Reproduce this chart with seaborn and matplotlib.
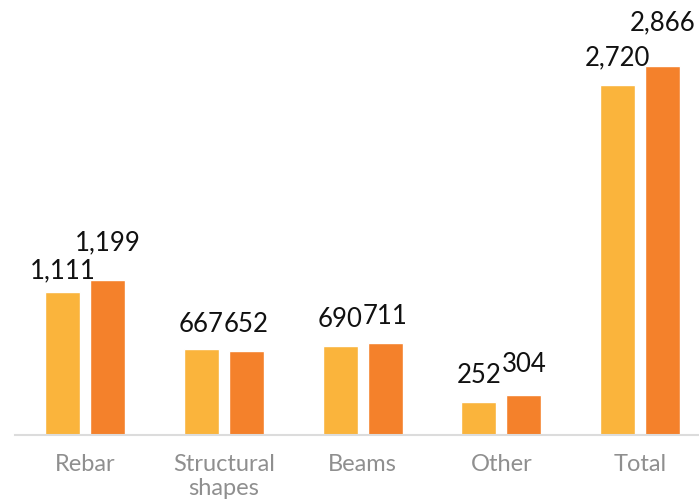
import matplotlib
matplotlib.use("Agg")
import matplotlib.pyplot as plt
import pandas as pd
import seaborn as sns

# Tonnage by product group, two periods
categories = ["Rebar", "Structural\nshapes", "Beams", "Other", "Total"]
series_names = ["Period 1", "Period 2"]
values_p1 = [1111, 667, 690, 252, 2720]
values_p2 = [1199, 652, 711, 304, 2866]

# Height of each value label's baseline above its bar top, in pixels
label_lift_p1 = [13, 17, 19, 19, 20]
label_lift_p2 = [30, 19, 19, 23, 36]

colors = ["#FAB43C", "#F4812B"]

sns.set_style("white")
plt.rcParams["font.family"] = ["Lato", "DejaVu Sans"]

df = pd.DataFrame({
    "category": categories * 2,
    "series": [series_names[0]] * len(categories) + [series_names[1]] * len(categories),
    "value": values_p1 + values_p2,
})

fig = plt.figure(figsize=(6.99, 5.03), dpi=100)
ax = fig.add_axes([15 / 699, 68.5 / 503, 684 / 699, 434.5 / 503])

sns.barplot(
    data=df, x="category", y="value", hue="series",
    order=categories, hue_order=series_names,
    palette=colors, saturation=1, width=0.649, gap=0.222,
    legend=False, errorbar=None, ax=ax,
)

ax.set_xlim(-0.505, 4.425)
ax.set_ylim(0, 3381)
ax.set_xlabel("")
ax.set_ylabel("")
ax.set_yticks([])
for side in ["left", "right", "top"]:
    ax.spines[side].set_visible(False)
ax.spines["bottom"].set_color("#dcdcdc")
ax.spines["bottom"].set_linewidth(1.5)

ax.tick_params(axis="x", length=0, pad=14, labelsize=17, labelcolor="#8f8f8f")
for lbl in ax.get_xticklabels():
    lbl.set_linespacing(1.2)

for container, vals, lifts in zip(ax.containers, [values_p1, values_p2], [label_lift_p1, label_lift_p2]):
    for bar, v, lift in zip(container, vals, lifts):
        ax.annotate(
            f"{v:,}",
            (bar.get_x() + bar.get_width() / 2, v),
            xytext=(0, lift * 0.72), textcoords="offset points",
            ha="center", va="baseline", fontsize=18.5, color="#111111",
        )

fig.savefig("out.png", dpi=100)
